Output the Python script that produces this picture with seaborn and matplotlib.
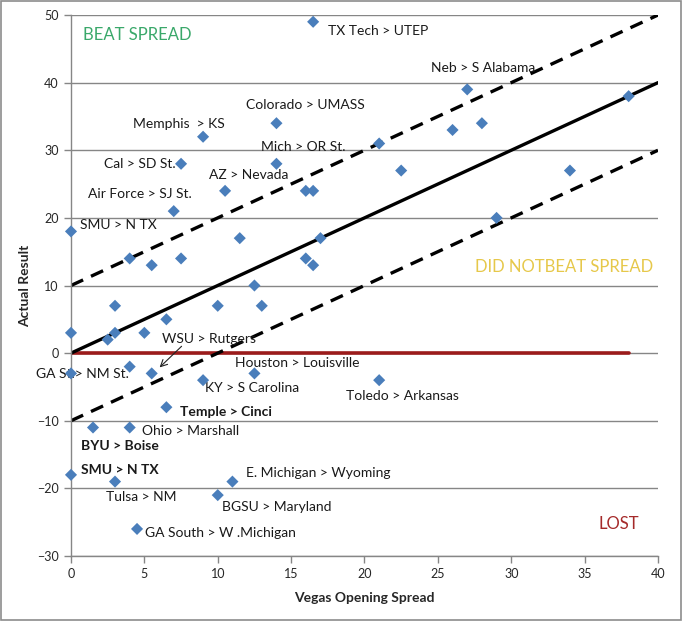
import pandas as pd
import matplotlib.pyplot as plt
import seaborn as sn
from matplotlib.patches import Rectangle

# spread vs actual result
spread = [16.5, 27, 38, 14, 9, 26, 28, 21, 7.5, 14, 22.5, 34, 10.5, 16, 16.5, 7,
          29, 0, 11.5, 17, 4, 5.5, 7.5, 16, 16.5, 12.5, 3, 10, 13, 6.5, 0, 3, 5,
          2.5, 0, 4, 5.5, 12.5, 9, 21, 6.5, 1.5, 4, 0, 3, 11, 10, 4.5]
result = [49, 39, 38, 34, 32, 33, 34, 31, 28, 28, 27, 27, 24, 24, 24, 21,
          20, 18, 17, 17, 14, 13, 14, 14, 13, 10, 7, 7, 7, 5, 3, 3, 3,
          2, -3, -2, -3, -3, -4, -4, -8, -11, -11, -18, -19, -19, -21, -26]

# labelled games: (label, index into the arrays, offset in px, bold)
labels = [
    ("TX Tech > UTEP", 0, (15, -9), False),
    ("Neb > S Alabama", 1, (-36, 21), False),
    ("Colorado > UMASS", 3, (-30, 18), False),
    ("Memphis  > KS", 4, (-70, 13), False),
    ("Mich > OR St.", 9, (-15, 17), False),
    ("Cal > SD St.", 8, (-77, 0), False),
    ("AZ > Nevada", 12, (-16, 16), False),
    ("Air Force > SJ St.", 15, (-86, 17), False),
    ("SMU > N TX", 17, (9, 6), False),
    ("GA St.> NM St.", 34, (-35, -1), False),
    ("Houston > Louisville", 37, (-19, 10), False),
    ("KY > S Carolina", 38, (2, -8), False),
    ("Toledo > Arkansas", 39, (-33, -16), False),
    ("Temple > Cinci", 40, (14, -5), True),
    ("Ohio > Marshall", 42, (12, -3), False),
    ("BYU > Boise", 41, (-12, -18), True),
    ("SMU > N TX", 43, (10, 5), True),
    ("E. Michigan > Wyoming", 45, (14, 9), False),
    ("Tulsa > NM", 44, (-9, -15), False),
    ("BGSU > Maryland", 46, (4, -12), False),
    ("GA South > W .Michigan", 47, (8, -4), False),
]

line_x = [0, 40]
zero_x = [0, 38]

df = pd.DataFrame({"spread": spread, "result": result})

sn.set_theme(style="white")
plt.rcParams["font.family"] = ["Lato", "DejaVu Sans"]

fig = plt.figure(figsize=(6.82, 6.21), dpi=100)
ax = fig.add_axes([0.1041, 0.1047, 0.8607, 0.8711])

sn.lineplot(x=zero_x, y=[0, 0], color="#9b1b1b", lw=2.6, ax=ax)
sn.lineplot(x=line_x, y=[v + 10 for v in line_x], color="black", lw=2.4,
            ax=ax).lines[-1].set_dashes([4, 2.6])
sn.lineplot(x=line_x, y=[v - 10 for v in line_x], color="black", lw=2.4,
            ax=ax).lines[-1].set_dashes([4, 2.6])
sn.lineplot(x=line_x, y=line_x, color="black", lw=2.4, ax=ax)
sn.scatterplot(data=df, x="spread", y="result", marker="D", s=38,
               color="#4a7ebb", edgecolor="none", ax=ax, zorder=5, clip_on=False)

for txt, i, off, bold in labels:
    ax.annotate(txt, (spread[i], result[i]), xytext=off, textcoords="offset pixels",
                ha="left", va="center", fontsize=10,
                fontweight="bold" if bold else "normal", color="#1a1a1a")

# WSU label with its arrow
ax.annotate("WSU > Rutgers", (spread[36], result[36]), xytext=(10, 34),
            textcoords="offset pixels", ha="left", va="center", fontsize=10,
            color="#1a1a1a")
ax.annotate("", (spread[36] + 0.4, result[36] + 0.6), xytext=(26, 25),
            textcoords="offset pixels",
            arrowprops=dict(arrowstyle="->", color="#222222", lw=0.8))

ax.text(0.02, 0.964, "BEAT SPREAD", transform=ax.transAxes, fontsize=12,
        color="#3aa86a", ha="left", va="center")
ax.text(0.688, 0.534, "DID NOTBEAT SPREAD", transform=ax.transAxes, fontsize=12,
        color="#e6c84a", ha="left", va="center")
ax.text(0.898, 0.06, "LOST", transform=ax.transAxes, fontsize=12,
        color="#a52a2a", ha="left", va="center")

ax.set_xlim(0, 40)
ax.set_ylim(-30, 50)
ax.set_xticks(range(0, 41, 5))
ax.set_yticks(range(-30, 51, 10))
ax.yaxis.grid(True, color="#868686", lw=1)
ax.xaxis.grid(False)
for s in ["top", "right"]:
    ax.spines[s].set_visible(False)
for s in ["left", "bottom"]:
    ax.spines[s].set_color("#868686")
    ax.spines[s].set_linewidth(1)
ax.tick_params(axis="both", which="major", direction="out", length=5,
               width=1, color="#868686", labelsize=9, pad=4,
               left=True, bottom=True)
ax.set_xlabel("Vegas Opening Spread", fontsize=10, fontweight="bold", labelpad=8)
ax.set_ylabel("Actual Result", fontsize=10, fontweight="bold", labelpad=4)
ax.set_axisbelow(True)

fig.add_artist(Rectangle((0.002, 0.002), 0.996, 0.996, transform=fig.transFigure,
                         fill=False, ec="#8c8c8c", lw=1.2))

fig.savefig("out.png", dpi=100)
